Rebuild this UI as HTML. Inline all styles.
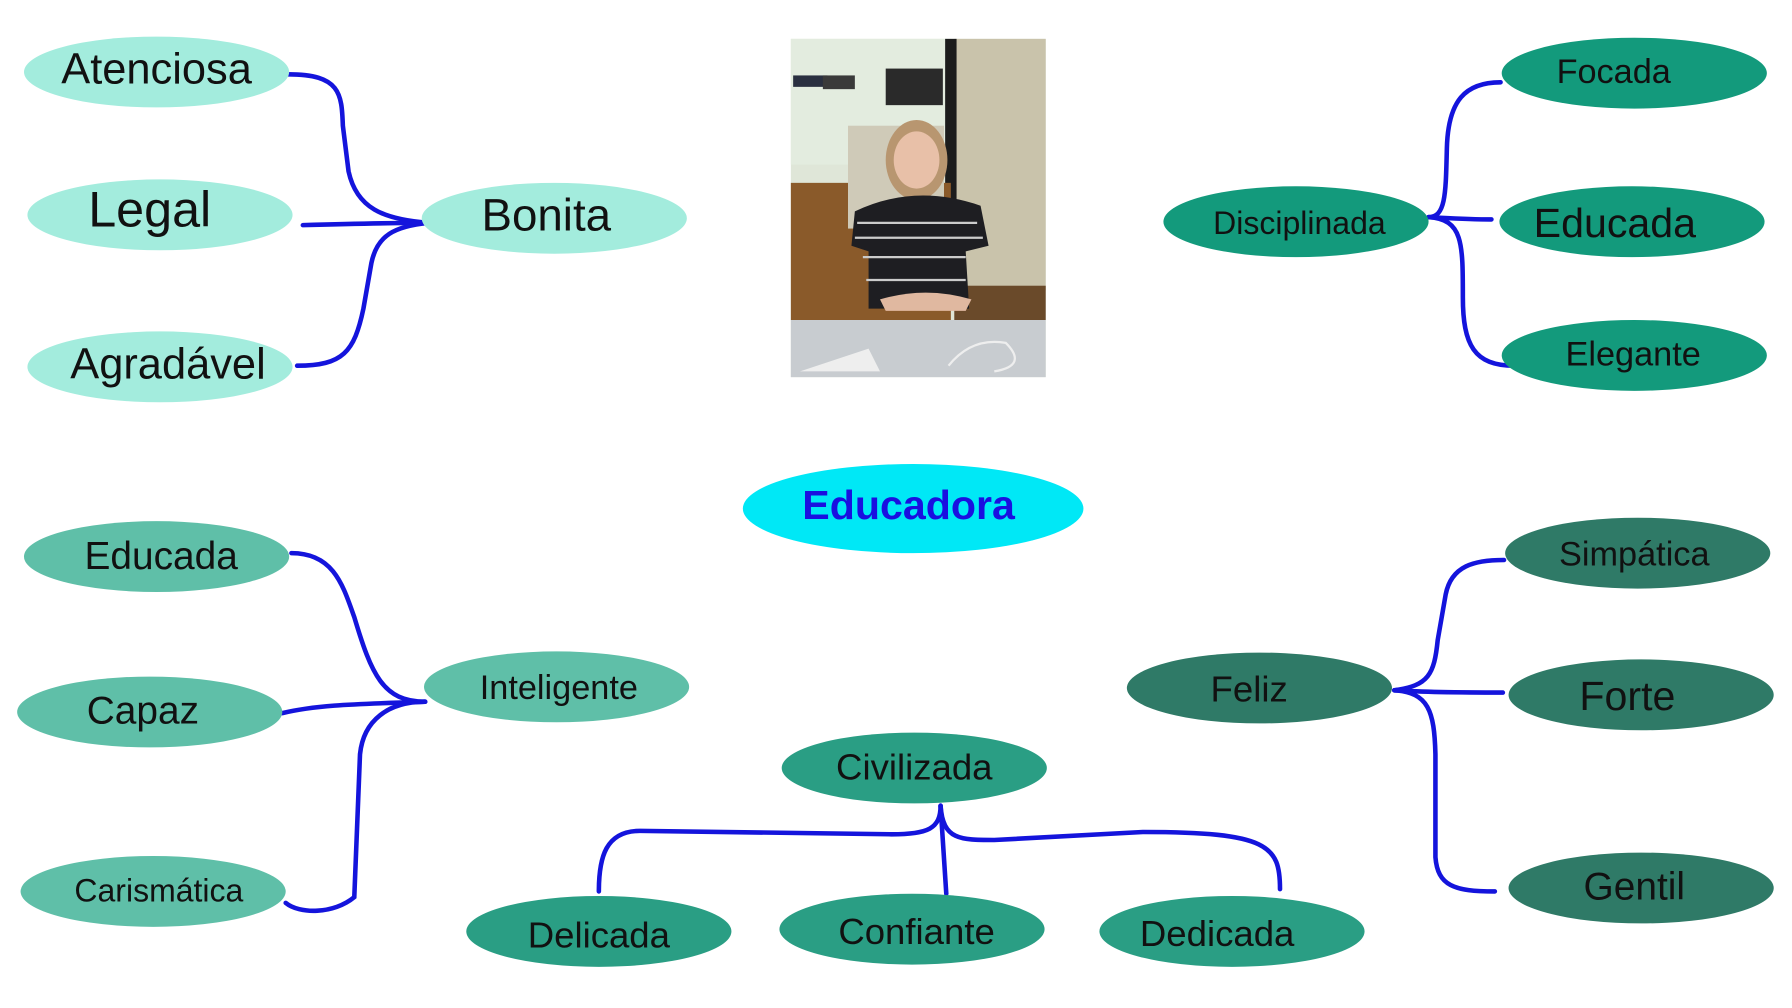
<!DOCTYPE html>
<html><head><meta charset="utf-8"><style>
html,body{margin:0;padding:0;background:#fff;}
svg{display:block;}
text{font-family:"Liberation Sans",Arial,sans-serif;text-anchor:middle;dominant-baseline:central;fill:#111;}
</style></head><body>
<svg width="1792" height="1008" viewBox="0 0 1568 882" xmlns="http://www.w3.org/2000/svg">
<rect width="1568" height="882" fill="#fff"/>
<!-- photo -->
<g>
<rect x="692" y="34" width="223" height="296" fill="#dfe6d8"/>
<rect x="692" y="34" width="140" height="110" fill="#e3ecdf"/>
<rect x="835" y="34" width="80" height="220" fill="#c9c3ab"/>
<rect x="827" y="34" width="10" height="200" fill="#1c1c1c"/>
<rect x="692" y="160" width="140" height="120" fill="#8a5a2a"/>
<rect x="742" y="110" width="84" height="90" fill="#cfcab8"/>
<rect x="775" y="60" width="50" height="32" fill="#2a2a2a"/>
<rect x="694" y="66" width="30" height="10" fill="#2a3040"/>
<rect x="720" y="66" width="28" height="12" fill="#3a3a3a"/>
<rect x="835" y="250" width="80" height="30" fill="#6a4a2a"/>
<ellipse cx="802" cy="140" rx="27" ry="35" fill="#b89670"/>
<ellipse cx="802" cy="140" rx="20" ry="25" fill="#e8c0a8"/>
<path d="M748,185 Q800,160 858,180 L865,215 L845,220 L848,270 L760,270 L760,220 L745,215 Z" fill="#1e1e22"/>
<path d="M750,195 L855,195 M748,208 L860,208 M755,225 L845,225 M758,245 L845,245" stroke="#ccc" stroke-width="2"/>
<path d="M770,262 Q810,250 850,262 L845,272 L775,272 Z" fill="#e0b8a0"/>
<rect x="692" y="280" width="223" height="50" fill="#c8ccd0"/>
<path d="M700,325 L760,305 L770,325 Z" fill="#eee"/>
<path d="M830,320 Q850,295 880,300 Q900,320 870,325" stroke="#eee" stroke-width="2" fill="none"/>
</g>
<!-- connectors -->
<g fill="none" stroke="#1414dc" stroke-width="4" stroke-linecap="round">
<path d="M252,65 C298,65 299,82 300,110 L305,150 C312,182 335,192 375,195"/>
<path d="M265,197 C300,196 340,195 375,195"/>
<path d="M260,320 C300,320 310,308 318,270 L325,230 C330,206 345,198 375,195"/>
<path d="M1250,190 C1265,190 1265,170 1266,130 C1267,88 1282,72 1313,72"/>
<path d="M1250,190 C1270,191 1285,192 1305,192"/>
<path d="M1250,190 C1280,192 1280,212 1280,260 C1280,302 1290,320 1325,320"/>
<path d="M255,484 C292,484 300,512 310,540 C325,590 335,614 372,614"/>
<path d="M247,624 C280,616 320,616 372,614"/>
<path d="M250,790 C262,800 292,800 310,785 L315,660 C318,630 340,614 372,614"/>
<path d="M823,705 C823,725 812,730 780,730 L560,727 C530,727 524,750 524,780"/>
<path d="M823,705 L828,782"/>
<path d="M823,705 C825,735 840,735 870,735 L1000,728 C1110,728 1120,740 1120,778"/>
<path d="M1220,604 C1250,600 1255,590 1258,560 L1265,520 C1270,495 1290,490 1316,490"/>
<path d="M1220,604 C1250,606 1290,606 1315,606"/>
<path d="M1220,604 C1250,606 1255,622 1256,660 L1256,750 C1258,775 1272,780 1308,780"/>
</g>
<!-- nodes -->
<g fill="#a3ecdd">
<ellipse cx="137" cy="63" rx="116" ry="31"/>
<ellipse cx="140" cy="188" rx="116" ry="31"/>
<ellipse cx="140" cy="321" rx="116" ry="31"/>
<ellipse cx="485" cy="191" rx="116" ry="31"/>
</g>
<g fill="#139a7c">
<ellipse cx="1134" cy="194" rx="116" ry="31"/>
<ellipse cx="1430" cy="64" rx="116" ry="31"/>
<ellipse cx="1428" cy="194" rx="116" ry="31"/>
<ellipse cx="1430" cy="311" rx="116" ry="31"/>
</g>
<ellipse cx="799" cy="445" rx="149" ry="39" fill="#00e8f6"/>
<g fill="#5fbfa8">
<ellipse cx="137" cy="487" rx="116" ry="31"/>
<ellipse cx="131" cy="623" rx="116" ry="31"/>
<ellipse cx="134" cy="780" rx="116" ry="31"/>
<ellipse cx="487" cy="601" rx="116" ry="31"/>
</g>
<g fill="#2a9e84">
<ellipse cx="800" cy="672" rx="116" ry="31"/>
<ellipse cx="524" cy="815" rx="116" ry="31"/>
<ellipse cx="798" cy="813" rx="116" ry="31"/>
<ellipse cx="1078" cy="815" rx="116" ry="31"/>
</g>
<g fill="#2f7a67">
<ellipse cx="1102" cy="602" rx="116" ry="31"/>
<ellipse cx="1433" cy="484" rx="116" ry="31"/>
<ellipse cx="1436" cy="608" rx="116" ry="31"/>
<ellipse cx="1436" cy="777" rx="116" ry="31"/>
</g>
<!-- labels -->
<text x="137" y="61" font-size="38">Atenciosa</text>
<text x="131" y="183" font-size="44">Legal</text>
<text x="147" y="319" font-size="38">Agradável</text>
<text x="478" y="188" font-size="40">Bonita</text>
<text x="1137" y="195" font-size="28">Disciplinada</text>
<text x="1412" y="63" font-size="30">Focada</text>
<text x="1413" y="195" font-size="36">Educada</text>
<text x="1429" y="310" font-size="30">Elegante</text>
<text x="795" y="442" font-size="36" font-weight="bold" style="fill:#1a10e0">Educadora</text>
<text x="141" y="487" font-size="34">Educada</text>
<text x="125" y="622" font-size="34">Capaz</text>
<text x="139" y="779" font-size="28">Carismática</text>
<text x="489" y="602" font-size="30">Inteligente</text>
<text x="800" y="671" font-size="32">Civilizada</text>
<text x="524" y="818" font-size="32">Delicada</text>
<text x="802" y="815" font-size="32">Confiante</text>
<text x="1065" y="817" font-size="32">Dedicada</text>
<text x="1093" y="603" font-size="32">Feliz</text>
<text x="1430" y="485" font-size="30">Simpática</text>
<text x="1424" y="609" font-size="36">Forte</text>
<text x="1430" y="776" font-size="34">Gentil</text>
</svg>
</body></html>
